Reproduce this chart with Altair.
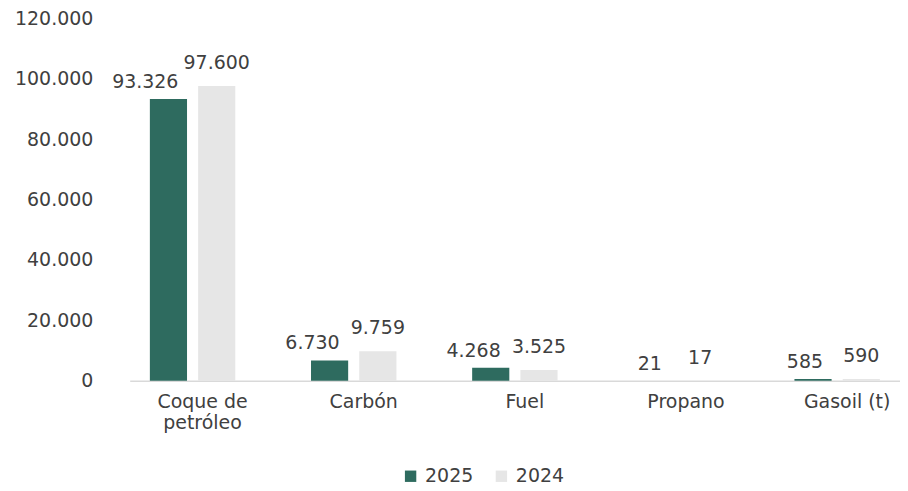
import altair as alt
import pandas as pd

categories = ["Coque de petróleo", "Carbón", "Fuel", "Propano", "Gasoil (t)"]
years = ["2025", "2024"]
values_2025 = [93326, 6730, 4268, 21, 585]
values_2024 = [97600, 9759, 3525, 17, 590]
y_ticks = [0, 20000, 40000, 60000, 80000, 100000, 120000]
colors = ["#2e6b5f", "#e6e6e6"]

rows = []
for c, v25, v24 in zip(categories, values_2025, values_2024):
    rows.append({"cat": c, "year": "2025", "value": v25})
    rows.append({"cat": c, "year": "2024", "value": v24})
df = pd.DataFrame(rows)

FONT = "DejaVu Sans"
TXT = "#404040"
FS = 19

x = alt.X(
    "cat:N",
    sort=categories,
    scale=alt.Scale(domain=categories, paddingInner=0.47, paddingOuter=0.125),
    axis=alt.Axis(
        title=None,
        labelAngle=0,
        labelExpr="datum.label == 'Coque de petróleo' ? ['Coque de', 'petróleo'] : datum.label",
        labelFont=FONT,
        labelFontSize=FS,
        labelColor=TXT,
        labelPadding=12,
        labelLineHeight=21,
        labelOffset=10,
        ticks=False,
        grid=False,
        domainColor="#d9d9d9",
        domainWidth=1.5,
    ),
)
xo = alt.XOffset(
    "year:N",
    sort=years,
    scale=alt.Scale(domain=years, paddingInner=0.23, paddingOuter=0),
)
y = alt.Y(
    "value:Q",
    scale=alt.Scale(domain=[0, 120000], nice=False),
    axis=alt.Axis(
        title=None,
        values=y_ticks,
        labelExpr="replace(format(datum.value, ','), ',', '.')",
        labelFont=FONT,
        labelFontSize=FS,
        labelColor=TXT,
        labelPadding=37,
        ticks=False,
        grid=False,
        domain=False,
    ),
)
color = alt.Color(
    "year:N",
    sort=years,
    scale=alt.Scale(domain=years, range=colors),
    legend=alt.Legend(
        title=None,
        orient="none",
        legendX=272,
        legendY=449,
        direction="horizontal",
        symbolType="square",
        symbolSize=130,
        symbolStrokeWidth=0,
        labelFont=FONT,
        labelFontSize=FS,
        labelColor=TXT,
        labelOffset=5,
        columnPadding=18,
    ),
)

base = alt.Chart(df).transform_calculate(
    lab="replace(format(datum.value, ','), ',', '.')"
)

bars = base.mark_bar().encode(x=x, xOffset=xo, y=y, color=color)

t25 = base.transform_filter("datum.year == '2025'").mark_text(
    align="right", dx=10, dy=-11, baseline="alphabetic",
    font=FONT, fontSize=FS, color=TXT
).encode(x=x, xOffset=xo, y=y, text="lab:N")

t24 = base.transform_filter("datum.year == '2024'").mark_text(
    align="center", dy=-17, baseline="alphabetic",
    font=FONT, fontSize=FS, color=TXT
).encode(x=x, xOffset=xo, y=y, text="lab:N")

chart = alt.layer(bars, t25, t24).properties(
    width=772,
    height=363,
    autosize=alt.AutoSizeParams(type="none"),
    padding={"left": 122, "top": 10, "right": 0, "bottom": 108},
).configure_view(stroke=None)

chart.save("out.html", embed_options={"renderer": "svg", "actions": False})
